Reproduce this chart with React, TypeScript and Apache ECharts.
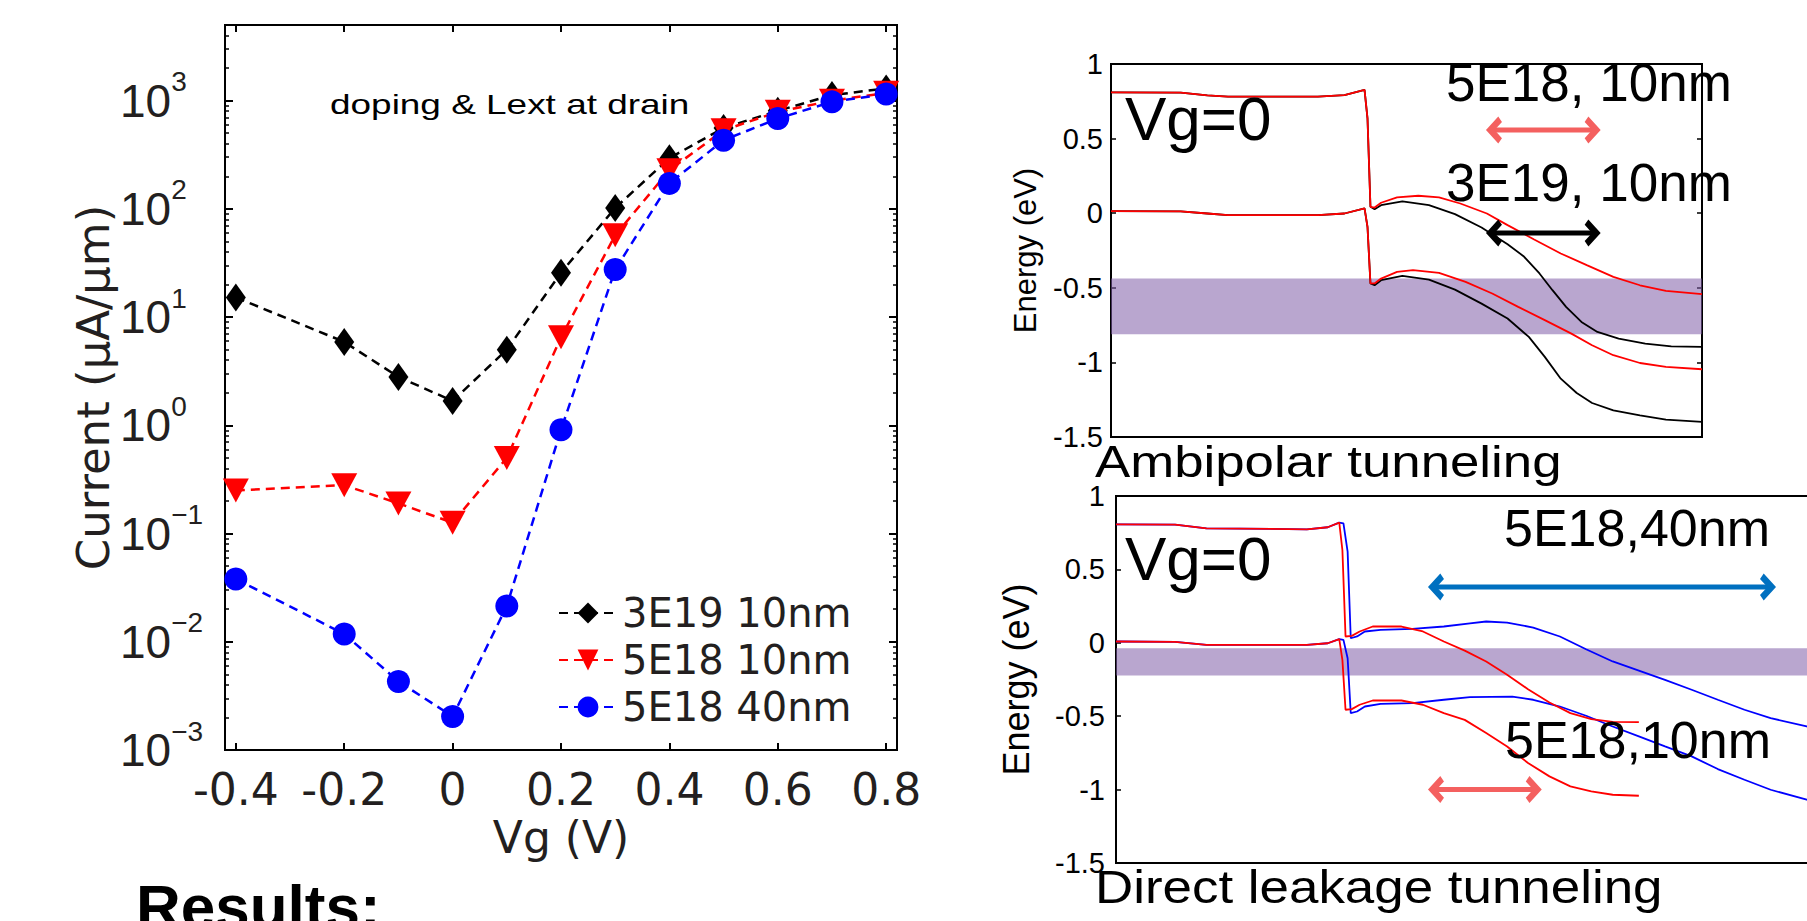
import React, { useEffect, useRef } from 'react';
import * as echarts from 'echarts';

// ---------------- Left panel: I-V curves ----------------
const vg = [-0.4, -0.2, -0.1, 0, 0.1, 0.2, 0.3, 0.4, 0.5, 0.6, 0.7, 0.8];
const cur3E19_10 = [15.2, 5.9, 2.8, 1.68, 5.0, 25.7, 102, 294, 560, 805, 1125, 1296];
const cur5E18_10 = [0.25, 0.28, 0.19, 0.126, 0.5, 6.5, 57, 228, 533, 788, 1000, 1180];
const cur5E18_40 = [0.038, 0.0118, 0.0043, 0.00204, 0.0214, 0.91, 27.5, 172, 431, 683, 975, 1150];
const xTickVals = [-0.4, -0.2, 0, 0.2, 0.4, 0.6, 0.8];
const legendNames = ['3E19 10nm', '5E18 10nm', '5E18 40nm'];

// ---------------- Top-right: ambipolar tunneling band diagram ----------------
const topLeftCB = [[0, 0.81], [11.8, 0.808], [16.3, 0.79], [19.8, 0.781], [35.0, 0.781], [39.5, 0.792], [42.9, 0.826], [43.4, 0.636], [43.9, 0.043]];
const topLeftVB = [[0, 0.014], [11.8, 0.012], [16.3, -0.002], [19.8, -0.013], [35.0, -0.013], [39.5, -0.002], [42.9, 0.032], [43.4, -0.091], [43.9, -0.471]];
const topRedCB = [[44.6, 0.038], [45.7, 0.07], [48.4, 0.106], [52.0, 0.117], [55.5, 0.106], [59.1, 0.065], [63.6, -0.002], [67.1, -0.08], [71.6, -0.176], [76.1, -0.27], [80.5, -0.348], [85.0, -0.427], [89.5, -0.483], [93.9, -0.521], [100, -0.543]];
const topBlackCB = [[44.6, 0.027], [45.7, 0.054], [49.3, 0.079], [53.8, 0.054], [58.2, -0.006], [62.7, -0.096], [67.1, -0.208], [69.8, -0.288], [72.5, -0.404], [74.7, -0.516], [77.0, -0.628], [79.6, -0.729], [82.3, -0.796], [85.9, -0.84], [90.4, -0.874], [94.8, -0.892], [100, -0.896]];
const topRedVB = [[44.6, -0.471], [45.7, -0.438], [48.4, -0.393], [51.1, -0.382], [55.5, -0.4], [60.0, -0.46], [64.5, -0.538], [68.9, -0.628], [73.4, -0.717], [77.9, -0.807], [81.4, -0.885], [85.0, -0.952], [89.5, -1.004], [93.9, -1.03], [100, -1.046]];
const topBlackVB = [[44.6, -0.483], [45.7, -0.449], [49.3, -0.42], [53.8, -0.445], [58.2, -0.512], [62.7, -0.606], [67.1, -0.706], [70.7, -0.829], [73.4, -0.963], [76.1, -1.109], [78.8, -1.205], [81.4, -1.272], [85.0, -1.321], [89.5, -1.355], [93.9, -1.384], [100, -1.399]];
const topBand = [[0, -0.438], [101.3, -0.811]];
const topRedArrow = [[64.8, 0.557], [81.5, 0.557]];
const topBlackArrow = [[64.8, -0.132], [81.5, -0.132]];

// ---------------- Bottom-right: direct leakage tunneling band diagram ----------------
const botLeftCB = [[0, 0.807], [11.3, 0.805], [17.3, 0.78], [36.5, 0.773], [40.5, 0.787], [42.7, 0.819]];
const botLeftVB = [[0, 0.009], [11.3, 0.006], [17.3, -0.014], [36.5, -0.014], [40.5, -0.003], [42.7, 0.025]];
const botRedCB = [[43.3, 0.632], [43.9, 0.043], [45.1, 0.047], [46.6, 0.077], [49.1, 0.111], [54.6, 0.111], [58.7, 0.077], [62.7, 0.009], [66.7, -0.053], [70.8, -0.127], [74.8, -0.218], [78.8, -0.316], [82.9, -0.407], [86.9, -0.479], [90.9, -0.52], [95.0, -0.538], [100, -0.54]];
const botRedVB = [[43.3, -0.116], [43.9, -0.456], [45.1, -0.452], [46.6, -0.422], [49.1, -0.393], [54.6, -0.393], [58.7, -0.422], [62.7, -0.479], [66.7, -0.525], [70.8, -0.615], [74.8, -0.706], [78.8, -0.819], [82.9, -0.91], [86.9, -0.978], [90.9, -1.012], [95.0, -1.035], [100, -1.042]];
const botBlueCB = [[43.5, 0.814], [44.3, 0.621], [44.9, 0.031], [46.1, 0.043], [47.6, 0.077], [50.6, 0.088], [56.7, 0.095], [62.7, 0.111], [67.7, 0.133], [70.8, 0.145], [74.8, 0.138], [79.8, 0.104], [84.9, 0.043], [89.9, -0.044], [95.0, -0.127], [100, -0.189], [105.0, -0.252], [110.1, -0.32], [115.1, -0.388], [120.2, -0.456], [125.2, -0.513], [132.1, -0.57], [140, -0.6]];
const botBlueVB = [[43.5, 0.02], [44.3, -0.105], [44.9, -0.479], [46.1, -0.468], [47.6, -0.434], [50.6, -0.416], [56.7, -0.411], [62.7, -0.388], [67.7, -0.37], [75.8, -0.366], [79.8, -0.388], [84.9, -0.434], [89.9, -0.497], [95.0, -0.57], [100, -0.638], [105.0, -0.706], [110.1, -0.774], [115.1, -0.86], [120.2, -0.933], [125.2, -1.001], [132.1, -1.069], [140, -1.1]];
const botBand = [[0, -0.037], [140, -0.223]];
const botBlueArrow = [[61.2, 0.38], [124.7, 0.38]];
const botRedArrow = [[61.2, -1.0], [79.9, -1.0]];

const ARIAL = "'Liberation Sans', Arial, sans-serif";
const DEJAVU = "'DejaVu Sans', sans-serif";
const GRAY = '#231f20';
const CHEVRON = 'path://M0,10 L10,0 L20,10 L16,13 L10,7 L4,13 Z';

const logMinor: number[] = [];
for (let n = -3; n <= 3; n++) {
  for (let k = 2; k <= 9; k++) {
    const v = Math.log10(k * Math.pow(10, n));
    if (v < Math.log10(5000) - 1e-6) logMinor.push(v);
  }
}

const NO_LINE = { show: false, onZero: false };

function bandCurve(data: number[][], color: string, xi: number, yi: number) {
  return {
    type: 'line', xAxisIndex: xi, yAxisIndex: yi, data, symbol: 'none', silent: true,
    lineStyle: { color, width: 1.8 }, z: 3,
  };
}

function arrow(pts: number[][], color: string, xi: number, yi: number) {
  return {
    type: 'line', xAxisIndex: xi, yAxisIndex: yi, z: 12, silent: true, clip: false,
    data: [
      { value: pts[0], symbolRotate: 90 },
      { value: pts[1], symbolRotate: -90 },
    ],
    symbol: CHEVRON, symbolSize: [27, 16], symbolKeepAspect: false, showSymbol: true, showAllSymbol: true,
    itemStyle: { color, opacity: 1 },
    lineStyle: { color, width: 5, type: 'solid', cap: 'butt' },
    emphasis: { disabled: true },
  };
}

function band(pts: number[][], xi: number, yi: number) {
  return {
    type: 'line', xAxisIndex: xi, yAxisIndex: yi, data: [], z: 10, silent: true, clip: false,
    markArea: {
      silent: true,
      label: { show: false },
      itemStyle: { color: 'rgba(128,92,168,0.55)' },
      emphasis: { disabled: true },
      data: [[{ coord: pts[0] }, { coord: pts[1] }]],
    },
  };
}

function energyYAxis(grid: number, pos: string, withLabels: boolean, margin: number, nameGap: number, nameSize: number) {
  return {
    type: 'value', gridIndex: grid, position: pos, min: -1.5, max: 1, interval: 0.5,
    axisLine: NO_LINE, splitLine: { show: false },
    axisTick: { show: true, inside: true, length: 5, lineStyle: { color: '#000', width: 1.5 } },
    axisLabel: { show: withLabels, fontSize: 29, fontFamily: ARIAL, color: '#000', margin },
    name: withLabels ? 'Energy (eV)' : '',
    nameLocation: 'middle', nameGap,
    nameTextStyle: { fontSize: nameSize, fontFamily: ARIAL, color: '#000' },
  };
}

function logLabel(v: number) {
  const l = Math.log10(v);
  const e = Math.round(l);
  if (Math.abs(l - e) > 1e-6) return '';
  const s = e < 0 ? '\u2212' + -e : String(e);
  return '{b|10}{s|' + s + '}';
}

function textEl(text: string, x: number, y: number, size: number, scaleX = 1, weight = 'normal', family = ARIAL) {
  return {
    type: 'text', x, y, scaleX, z: 100, silent: true,
    style: {
      text, x: 0, y: 0, fontSize: size, fontFamily: family, fontWeight: weight, fill: '#000',
      align: 'left', textAlign: 'left', verticalAlign: 'middle', textVerticalAlign: 'middle',
    },
  };
}

export default function App() {
  const ref = useRef<HTMLDivElement>(null);

  useEffect(() => {
    const chart = echarts.init(ref.current!, null, { renderer: 'svg', width: 1807, height: 921 });

    const gridBase = { show: true, borderColor: '#000', borderWidth: 2, backgroundColor: 'transparent', containLabel: false, outerBoundsMode: 'none' };

    const option: any = {
      animation: false,
      backgroundColor: '#fff',
      textStyle: { fontFamily: ARIAL },
      grid: [
        { left: 225, top: 25, width: 672, height: 725, ...gridBase },
        { left: 1111, top: 64, width: 591, height: 373, ...gridBase },
        { left: 1116, top: 496, width: 732, height: 367, ...gridBase },
      ],
      legend: {
        data: legendNames,
        orient: 'vertical', left: 553, top: 588,
        itemWidth: 58, itemHeight: 26, itemGap: 7,
        textStyle: { fontSize: 40, fontFamily: DEJAVU, color: GRAY, lineHeight: 30 },
        selectedMode: false,
      },
      xAxis: [
        {
          type: 'value', gridIndex: 0, position: 'bottom', min: -0.42, max: 0.82,
          axisLine: NO_LINE, splitLine: { show: false },
          axisTick: { show: true, inside: true, length: 7, customValues: xTickVals, lineStyle: { color: '#000', width: 2 } },
          axisLabel: {
            customValues: xTickVals, fontSize: 44, fontFamily: DEJAVU, color: GRAY, margin: 17,
            formatter: (v: number) => String(Math.round(v * 10) / 10),
          },
          name: 'Vg (V)', nameLocation: 'middle', nameGap: 60,
          nameTextStyle: { fontSize: 44, fontFamily: DEJAVU, color: GRAY },
        },
        {
          type: 'value', gridIndex: 0, position: 'top', min: -0.42, max: 0.82,
          axisLine: NO_LINE, splitLine: { show: false },
          axisTick: { show: true, inside: true, length: 7, customValues: xTickVals, lineStyle: { color: '#000', width: 2 } },
          axisLabel: { show: false },
        },
        { type: 'value', gridIndex: 1, min: 0, max: 100, axisLine: NO_LINE, axisTick: { show: false }, axisLabel: { show: false }, splitLine: { show: false } },
        { type: 'value', gridIndex: 2, min: 0, max: 140, axisLine: NO_LINE, axisTick: { show: false }, axisLabel: { show: false }, splitLine: { show: false } },
      ],
      yAxis: [
        {
          type: 'log', logBase: 10, gridIndex: 0, position: 'left', min: 0.001, max: 5000,
          axisLine: NO_LINE, splitLine: { show: false }, minorTick: { show: false },
          axisTick: { show: true, inside: true, length: 8, lineStyle: { color: '#000', width: 2 } },
          axisLabel: {
            formatter: logLabel, align: 'left', margin: 105,
            rich: {
              b: { fontSize: 46, fontFamily: ARIAL, color: GRAY, lineHeight: 66 },
              s: { fontSize: 28, fontFamily: ARIAL, color: GRAY, lineHeight: 30, verticalAlign: 'top' },
            },
          },
          name: 'Current (\u03bcA/\u03bcm)', nameLocation: 'middle', nameGap: 104,
          nameTextStyle: { fontSize: 45, fontFamily: DEJAVU, color: GRAY },
        },
        {
          type: 'log', logBase: 10, gridIndex: 0, position: 'right', min: 0.001, max: 5000,
          axisLine: NO_LINE, splitLine: { show: false }, minorTick: { show: false },
          axisTick: { show: true, inside: true, length: 8, lineStyle: { color: '#000', width: 2 } },
          axisLabel: { show: false },
        },
        {
          type: 'value', gridIndex: 0, position: 'left', min: -3, max: Math.log10(5000),
          axisLine: NO_LINE, splitLine: { show: false }, axisLabel: { show: false },
          axisTick: { show: true, inside: true, length: 4, customValues: logMinor, lineStyle: { color: '#000', width: 1.5 } },
        },
        {
          type: 'value', gridIndex: 0, position: 'right', min: -3, max: Math.log10(5000),
          axisLine: NO_LINE, splitLine: { show: false }, axisLabel: { show: false },
          axisTick: { show: true, inside: true, length: 4, customValues: logMinor, lineStyle: { color: '#000', width: 1.5 } },
        },
        energyYAxis(1, 'left', true, 8, 70, 31),
        energyYAxis(1, 'right', false, 8, 0, 31),
        energyYAxis(2, 'left', true, 11, 82, 36),
        energyYAxis(2, 'right', false, 11, 0, 36),
      ],
      series: [
        {
          type: 'line', name: legendNames[0], xAxisIndex: 0, yAxisIndex: 0,
          data: vg.map((v, i) => [v, cur3E19_10[i]]),
          symbol: 'diamond', symbolSize: [20, 28],
          itemStyle: { color: '#000' }, lineStyle: { color: '#000', width: 2.5, type: [9, 6] }, z: 3,
        },
        {
          type: 'line', name: legendNames[1], xAxisIndex: 0, yAxisIndex: 0,
          data: vg.map((v, i) => [v, cur5E18_10[i]]),
          symbol: 'triangle', symbolRotate: 180, symbolSize: [26, 24],
          itemStyle: { color: '#ff0000' }, lineStyle: { color: '#ff0000', width: 2.5, type: [9, 6] }, z: 4,
        },
        {
          type: 'line', name: legendNames[2], xAxisIndex: 0, yAxisIndex: 0,
          data: vg.map((v, i) => [v, cur5E18_40[i]]),
          symbol: 'circle', symbolSize: 23,
          itemStyle: { color: '#0000ff' }, lineStyle: { color: '#0000ff', width: 2.5, type: [9, 6] }, z: 5,
        },
        // top-right
        bandCurve([...topLeftCB, ...topBlackCB], '#000', 2, 4),
        bandCurve([...topLeftVB, ...topBlackVB], '#000', 2, 4),
        bandCurve([...topLeftCB, ...topRedCB], '#ff0000', 2, 4),
        bandCurve([...topLeftVB, ...topRedVB], '#ff0000', 2, 4),
        band(topBand, 2, 4),
        arrow(topRedArrow, '#f4605f', 2, 4),
        arrow(topBlackArrow, '#000', 2, 4),
        // bottom-right
        bandCurve([...botLeftCB, ...botBlueCB], '#0000ff', 3, 6),
        bandCurve([...botLeftVB, ...botBlueVB], '#0000ff', 3, 6),
        bandCurve([...botLeftCB, ...botRedCB], '#ff0000', 3, 6),
        bandCurve([...botLeftVB, ...botRedVB], '#ff0000', 3, 6),
        band(botBand, 3, 6),
        arrow(botBlueArrow, '#0070c0', 3, 6),
        arrow(botRedArrow, '#f4605f', 3, 6),
      ],
      graphic: [
        textEl('doping & Lext at drain', 330, 104, 28, 1.32),
        textEl('Results:', 136, 906, 62, 1, 'bold'),
        textEl('Vg=0', 1125, 118, 62),
        textEl('5E18, 10nm', 1446, 82, 53),
        textEl('3E19, 10nm', 1446, 182, 53),
        textEl('Ambipolar tunneling', 1095, 462, 44, 1.2),
        textEl('Vg=0', 1125, 558, 62),
        textEl('5E18,40nm', 1504, 528, 52),
        textEl('5E18,10nm', 1505, 740, 52),
        textEl('Direct leakage tunneling', 1095, 887, 46, 1.15),
      ],
    };

    chart.setOption(option);
    return () => chart.dispose();
  }, []);

  return <div ref={ref} style={{ position: 'absolute', left: 0, top: 0, width: 1807, height: 921 }} />;
}
